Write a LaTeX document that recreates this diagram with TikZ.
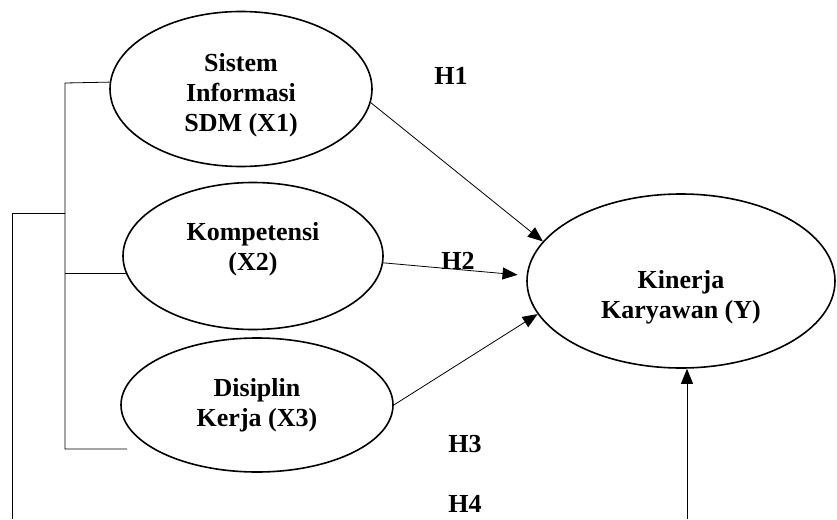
\documentclass[tikz,border=0pt]{standalone}
\usepackage{fontspec}
\setmainfont{Liberation Serif}
\usetikzlibrary{shapes.geometric,arrows.meta}

\begin{document}
\begin{tikzpicture}[x=1pt,y=-1pt,>={Triangle[length=15pt,width=12pt]},line width=0.8pt,
    var/.style={draw,ellipse,line width=1.6pt,inner sep=0pt},
    txt/.style={align=center,font=\fontsize{26}{30}\selectfont\bfseries}]
    \useasboundingbox (0,0) rectangle (837,519);
    % variables
    \node[var,minimum width=262pt,minimum height=155pt,label={[txt,yshift=-6pt]center:{Sistem\\Informasi\\SDM (X1)}}] (sdm) at (241,89) {};
    \node[var,minimum width=260pt,minimum height=147pt,label={[txt,yshift=7pt]center:{Kompetensi\\(X2)}}] (komp) at (253,256) {};
    \node[var,minimum width=272pt,minimum height=134pt,label={[txt]center:{Disiplin\\Kerja (X3)}}] (disiplin) at (257,405) {};
    \node[var,minimum width=308pt,minimum height=174pt,label={[txt,yshift=-16pt]center:{Kinerja\\Karyawan (Y)}}] (kinerja) at (681,281) {};
    % hypotheses
    \node[txt] (h1) at (451,76) {H1};
    \node[txt] (h2) at (458,261) {H2};
    \node[txt] (h3) at (465,444) {H3};
    \node[txt] (h4) at (465,504) {H4};
    % paths
    \draw[->] (sdm.-6) -- (kinerja.164);
    \draw[->,shorten >=9pt] (komp.-3) -- (kinerja.178);
    \draw[->] (disiplin.east) -- (kinerja.193);
    \coordinate (in4) at (687,519);
    \draw[->] (in4) -- (in4 |- kinerja.south);
    % brackets
    \coordinate (b1) at (65,83);
    \coordinate (b2) at (65,449);
    \coordinate (b3) at (127,449);
    \draw (sdm.177) -- (b1) -- (b2) -- (b3);
    \draw (komp.188) -- (b1 |- komp.188);
    \coordinate (o1) at (12,213);
    \coordinate (o2) at (12,519);
    \draw (o2) -- (o1) -- (o1 -| b1);
\end{tikzpicture}
\end{document}
